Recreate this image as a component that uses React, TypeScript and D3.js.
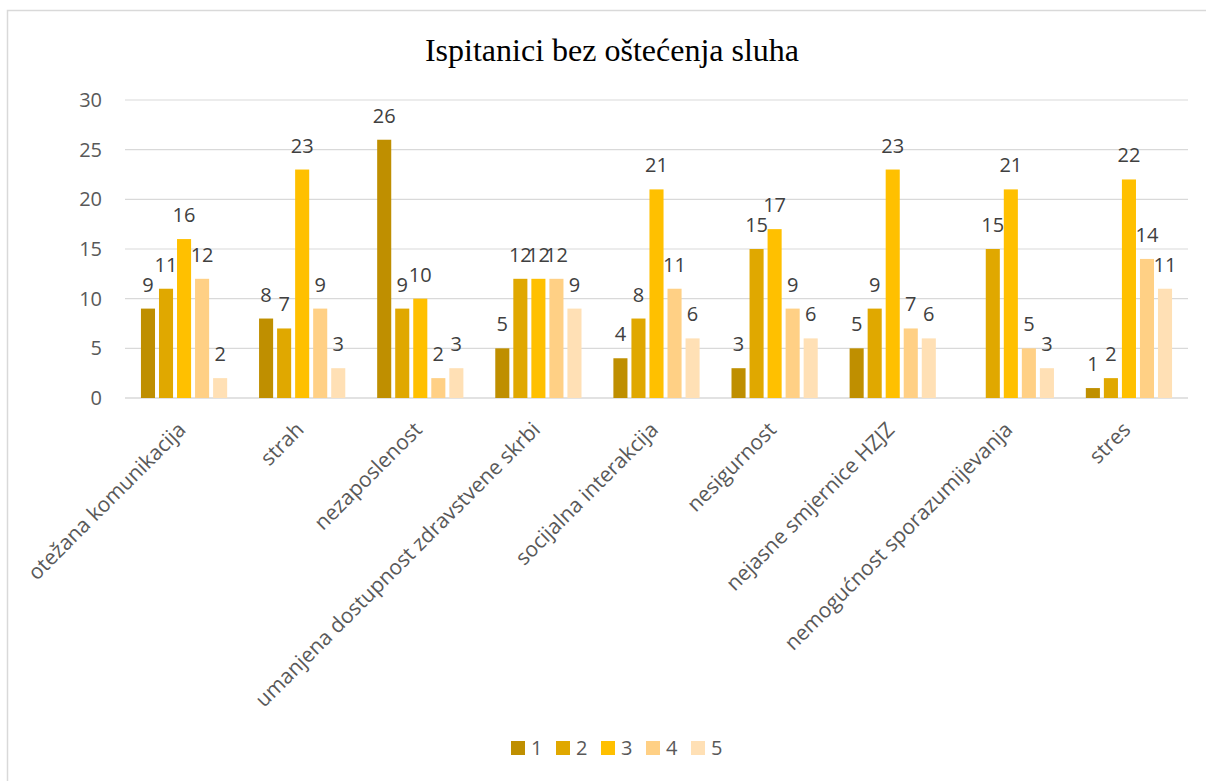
import React from "react";
import * as d3 from "d3";

const categories = [
  "otežana komunikacija",
  "strah",
  "nezaposlenost",
  "umanjena dostupnost zdravstvene skrbi",
  "socijalna interakcija",
  "nesigurnost",
  "nejasne smjernice HZJZ",
  "nemogućnost sporazumijevanja",
  "stres",
];
const seriesNames = ["1", "2", "3", "4", "5"];
const s1: (number | null)[] = [9, 8, 26, 5, 4, 3, 5, null, 1];
const s2: (number | null)[] = [11, 7, 9, 12, 8, 15, 9, 15, 2];
const s3: (number | null)[] = [16, 23, 10, 12, 21, 17, 23, 21, 22];
const s4: (number | null)[] = [12, 9, 2, 12, 11, 9, 7, 5, 14];
const s5: (number | null)[] = [2, 3, 3, 9, 6, 6, 6, 3, 11];
const yTicks = [0, 5, 10, 15, 20, 25, 30];
const colors = ["#BF8F00", "#E0A800", "#FFC000", "#FFD085", "#FFE0B5"];

export default function App() {
  const series = [s1, s2, s3, s4, s5];
  const W = 1206, H = 781;
  const x0 = d3.scaleBand<string>().domain(categories).range([125, 1188]).paddingInner(0.27).paddingOuter(0.135);
  const x1 = d3.scaleBand<string>().domain(seriesNames).range([0, x0.bandwidth()]).paddingInner(0.22);
  const y = d3.scaleLinear().domain([0, 30]).range([398, 100]);
  const font = "'Open Sans', sans-serif";
  return (
    <svg width={W} height={H} style={{ position: "absolute", left: 0, top: 0, background: "#fff" }}>
      <rect x={7.5} y={10.5} width={1210} height={800} fill="#fff" stroke="#d9d9d9" strokeWidth={1.5} />
      <text x={612} y={61} textAnchor="middle" fontFamily="'Liberation Serif', 'Times New Roman', serif" fontSize={32} fill="#000">
        Ispitanici bez oštećenja sluha
      </text>
      {yTicks.map((t) => (
        <g key={t}>
          <line x1={125} x2={1188} y1={y(t)} y2={y(t)} stroke="#d9d9d9" strokeWidth={t === 0 ? 1.5 : 1.2} />
          <text x={102} y={y(t)} dy="0.35em" textAnchor="end" fontFamily={font} fontSize={20} fill="#595959">{t}</text>
        </g>
      ))}
      {categories.map((c, i) => (
        <g key={c} transform={`translate(${x0(c)},0)`}>
          {series.map((s, k) => {
            const v = s[i];
            if (v === null || v === undefined) return null;
            const bx = x1(seriesNames[k])!;
            return (
              <g key={k}>
                <rect x={bx} y={y(v)} width={x1.bandwidth()} height={y(0) - y(v)} fill={colors[k]} />
                <text x={bx + x1.bandwidth() / 2} y={y(v) - 17} textAnchor="middle" fontFamily={font} fontSize={20} fill="#404040">{v}</text>
              </g>
            );
          })}
        </g>
      ))}
      {categories.map((c) => {
        const cx = x0(c)! + x0.bandwidth() / 2;
        return (
          <text key={c} transform={`translate(${cx + 3},${431}) rotate(-45)`} textAnchor="end" fontFamily={font} fontSize={21} fill="#595959">{c}</text>
        );
      })}
      {seriesNames.map((n, k) => (
        <g key={n} transform={`translate(${511 + k * 45},741)`}>
          <rect x={0} y={0} width={14} height={14} fill={colors[k]} />
          <text x={20} y={7} dy="0.35em" fontFamily={font} fontSize={20} fill="#595959">{n}</text>
        </g>
      ))}
    </svg>
  );
}
